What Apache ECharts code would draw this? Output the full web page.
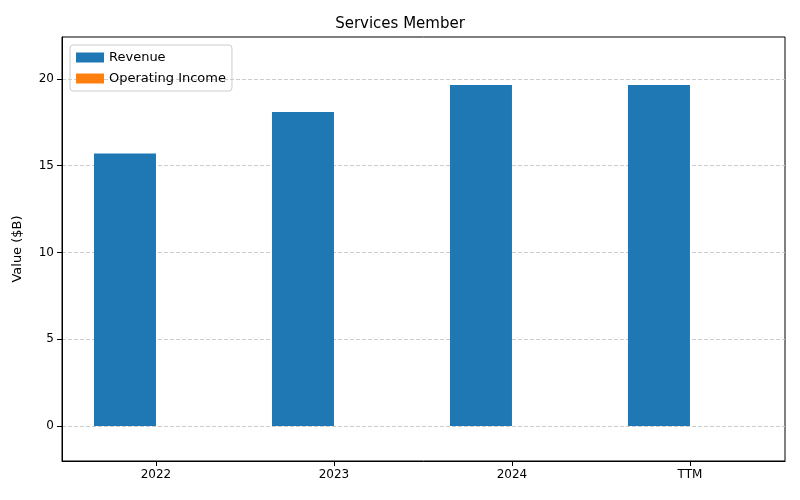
<!DOCTYPE html>
<html><head><meta charset="utf-8">
<script src="https://cdn.jsdelivr.net/npm/echarts@6/dist/echarts.min.js"></script>
<style>body{margin:0}#c{width:800px;height:500px}</style></head>
<body><div id="c"></div>
<script>
// values
const categories = ['2022', '2023', '2024', 'TTM'];
const revenue = [15.7, 18.1, 19.65, 19.65];
const operatingIncome = [0, 0, 0, 0];
const yTicks = [0, 5, 10, 15, 20];

const chart = echarts.init(document.getElementById('c'));
const font = 'DejaVu Sans';

chart.setOption({
    animation: false,
    textStyle: { fontFamily: font },
    title: { text: 'Services Member', left: 'center', top: 12,
        textStyle: { fontSize: 15, fontWeight: 'normal', color: '#000', fontFamily: font } },
    legend: {
        left: 70, top: 45, orient: 'vertical', icon: 'rect', itemWidth: 28, itemHeight: 10, itemGap: 8,
        borderColor: '#ccc', borderWidth: 1, borderRadius: 3, padding: [6, 6, 6, 6],
        textStyle: { fontSize: 13, color: '#000' },
        data: ['Revenue', 'Operating Income']
    },
    grid: { left: 62, right: 15, top: 37, bottom: 39 },
    xAxis: {
        type: 'value', min: -0.528, max: 3.534,
        axisLine: { show: true, onZero: false, lineStyle: { color: '#000' } },
        splitLine: { show: false },
        axisTick: { show: true, customValues: [0, 1, 2, 3], lineStyle: { color: '#000' } },
        axisLabel: { customValues: [0, 1, 2, 3], color: '#000', fontSize: 12,
            formatter: v => categories[Math.round(v)] }
    },
    yAxis: {
        type: 'value', min: -2.02, max: 22.42,
        name: 'Value ($B)', nameLocation: 'middle', nameGap: 38,
        nameTextStyle: { fontSize: 13, color: '#000' },
        axisLine: { show: true, onZero: false, lineStyle: { color: '#000' } },
        axisTick: { show: true, customValues: yTicks, lineStyle: { color: '#000' } },
        axisLabel: { customValues: yTicks, color: '#000', fontSize: 12 },
        splitLine: { show: true, customValues: yTicks, lineStyle: { type: 'dashed', color: '#ccc' } }
    },
    series: [
        { name: 'Revenue', type: 'bar', barWidth: 62, barGap: '0%', itemStyle: { color: '#1f77b4' },
          data: revenue.map((v, i) => [i, v]) },
        { name: 'Operating Income', type: 'bar', barWidth: 62, barGap: '0%', itemStyle: { color: '#ff7f0e' },
          data: operatingIncome.map((v, i) => [i, v]) }
    ],
    graphic: [{ type: 'rect', shape: { x: 62, y: 37, width: 723, height: 424 },
        style: { fill: 'none', stroke: '#000', lineWidth: 1 }, silent: true }]
});
</script></body></html>
